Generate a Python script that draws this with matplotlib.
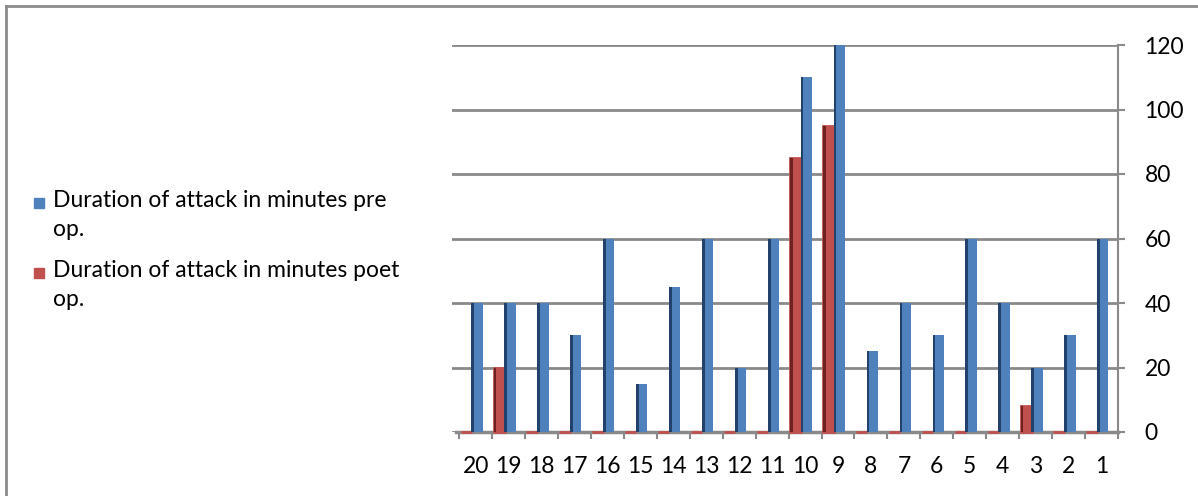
import numpy as np
import matplotlib.pyplot as plt
from matplotlib.patches import Rectangle
from matplotlib.lines import Line2D

plt.rcParams['font.family'] = ['Lato', 'DejaVu Sans']

# data (cases listed 20 -> 1, as on the axis)
CASES = ['20', '19', '18', '17', '16', '15', '14', '13', '12', '11',
         '10', '9', '8', '7', '6', '5', '4', '3', '2', '1']
PRE_OP = [40, 40, 40, 30, 60, 15, 45, 60, 20, 60,
          110, 120, 25, 40, 30, 60, 40, 20, 30, 60]
POST_OP = [0, 20, 0, 0, 0, 0, 0, 0, 0, 0,
           85, 95, 0, 0, 0, 0, 0, 8, 0, 0]
LABEL_PRE = 'Duration of attack in minutes pre\nop.'
LABEL_POST = 'Duration of attack in minutes poet\nop.'

BLUE = '#4f81bd'
BLUE_DARK = '#22416b'
RED = '#c0504d'
RED_DARK = '#6e2220'
GRID = '#8a8a8a'
FS = 16.5

W, H = 1198, 496
fig = plt.figure(figsize=(W / 100, H / 100), dpi=100)
ax = fig.add_axes([452 / W, 1 - 432 / H, (1118 - 452) / W, (432 - 45) / H])

x = np.arange(len(CASES))
bw = 0.34
# red bars sit left, blue right, both shifted a bit left (3d depth look)
red_left = x - 0.46
blue_left = x - 0.13
ax.bar(red_left, POST_OP, width=bw, align='edge', color=RED,
       edgecolor=RED, linewidth=2, zorder=3, clip_on=False)
ax.bar(red_left, POST_OP, width=0.08, align='edge', color=RED_DARK,
       linewidth=0, zorder=4, clip_on=False)
ax.bar(blue_left, PRE_OP, width=bw, align='edge', color=BLUE,
       linewidth=0, zorder=3, clip_on=False)
ax.bar(blue_left, PRE_OP, width=0.08, align='edge', color=BLUE_DARK,
       linewidth=0, zorder=4, clip_on=False)

ax.set_xlim(-0.72, 19.5)
ax.set_ylim(0, 120)
ax.set_yticks(np.arange(0, 121, 20))
ax.yaxis.grid(True, color=GRID, linewidth=2)
ax.set_axisbelow(True)
ax.yaxis.tick_right()
ax.tick_params(axis='y', which='major', length=5, width=1.5, color=GRID,
               pad=14, labelsize=FS)
for lab in ax.get_yticklabels():
    lab.set_horizontalalignment('left')

ax.set_xticks(x)
ax.set_xticklabels(CASES)
ax.set_xticks(np.arange(-0.5, 19.6, 1), minor=True)
ax.tick_params(axis='x', which='major', length=0, pad=17, labelsize=FS)
ax.tick_params(axis='x', which='minor', length=5, width=1.5, color=GRID)

for s in ['top', 'left']:
    ax.spines[s].set_visible(False)
ax.spines['right'].set_color(GRID)
ax.spines['right'].set_linewidth(1.5)
ax.spines['bottom'].set_color(GRID)
ax.spines['bottom'].set_linewidth(2.5)
ax.spines['bottom'].set_bounds(-0.6, 19.5)
ax.spines['bottom'].set_zorder(2)

# legend drawn by hand so the swatch lines up with the first text line
for yy, col, lab in [(203, BLUE, LABEL_PRE), (273, RED, LABEL_POST)]:
    fig.add_artist(Rectangle((34 / W, 1 - (yy + 5) / H), 10 / W, 10 / H,
                             transform=fig.transFigure, color=col))
    fig.text(53 / W, 1 - (yy - 13) / H, lab, fontsize=FS, va='top',
             ha='left', linespacing=1.45)

# outer frame (left and top edges only visible)
fig.add_artist(Line2D([6 / W, 6 / W], [0, 1 - 6 / H], transform=fig.transFigure,
                      color='#8c8c8c', linewidth=2))
fig.add_artist(Line2D([6 / W, 1], [1 - 6 / H, 1 - 6 / H], transform=fig.transFigure,
                      color='#8c8c8c', linewidth=2))

fig.savefig('out.png', dpi=100)
